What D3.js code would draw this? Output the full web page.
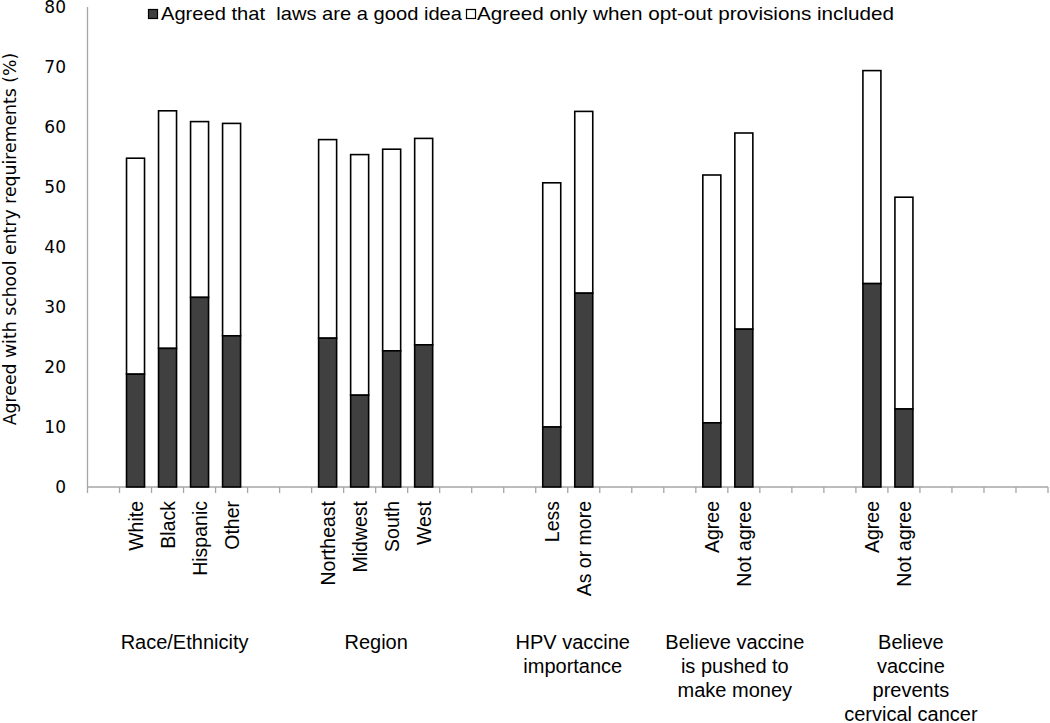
<!DOCTYPE html>
<html>
<head>
<meta charset="utf-8">
<script src="https://cdn.jsdelivr.net/npm/d3@7"></script>
<style>
  html, body { margin: 0; padding: 0; background: #fff; }
  svg { display: block; }
</style>
</head>
<body>
<svg id="chart" width="1050" height="723"></svg>
<script>
// ---- data ----
const categories = ["", "White", "Black", "Hispanic", "Other", "", "",
  "Northeast", "Midwest", "South", "West", "", "", "",
  "Less", "As or more", "", "", "",
  "Agree", "Not agree", "", "", "",
  "Agree", "Not agree", "", "", "", ""];
const agreedLaws = [null, 18.8, 23.1, 31.6, 25.2, null, null,
  24.8, 15.3, 22.7, 23.7, null, null, null,
  10.0, 32.3, null, null, null,
  10.7, 26.3, null, null, null,
  33.9, 13.0, null, null, null, null];
const agreedOptOut = [null, 36.0, 39.6, 29.3, 35.4, null, null,
  33.1, 40.1, 33.6, 34.4, null, null, null,
  40.7, 30.3, null, null, null,
  41.3, 32.7, null, null, null,
  35.5, 35.3, null, null, null, null];
const seriesNames = ["Agreed that  laws are a good idea", "Agreed only when opt-out provisions included"];
const groupNames = [["Race/Ethnicity"], ["Region"], ["HPV vaccine", "importance"],
  ["Believe vaccine", "is pushed to", "make money"], ["Believe", "vaccine", "prevents", "cervical cancer"]];
const groupSpans = [[1, 4], [7, 10], [14, 15], [19, 20], [24, 25]];
const yTicks = [0, 10, 20, 30, 40, 50, 60, 70, 80];
const yTitle = "Agreed with school entry requirements (%)";

// ---- layout ----
const svg = d3.select("#chart");
const mLeft = 87.5, mRight = 1048, mTop = 7, mBottom = 487;
const axisColor = "#a6a6a6";
const darkFill = "#404040";

const x = d3.scaleBand().domain(d3.range(categories.length)).range([mLeft, mRight]).paddingInner(0).paddingOuter(0);
const y = d3.scaleLinear().domain([0, 80]).range([mBottom, mTop]);
const barW = 18;

// y axis line
svg.append("line").attr("x1", mLeft).attr("x2", mLeft).attr("y1", y(80)).attr("y2", y(0))
  .attr("stroke", axisColor).attr("stroke-width", 1.3);
// x axis line + slot boundary ticks
svg.append("line").attr("x1", mLeft).attr("x2", mRight).attr("y1", mBottom).attr("y2", mBottom)
  .attr("stroke", axisColor).attr("stroke-width", 1.3);
const bounds = d3.range(categories.length + 1).map(i => i < categories.length ? x(i) : x(categories.length - 1) + x.bandwidth());
svg.append("g").selectAll("line").data(bounds).join("line")
  .attr("x1", d => d).attr("x2", d => d).attr("y1", mBottom).attr("y2", mBottom + 6)
  .attr("stroke", axisColor).attr("stroke-width", 1.3);

// y tick labels
svg.append("g").selectAll("text").data(yTicks).join("text")
  .attr("x", 66).attr("y", d => y(d)).attr("dy", "0.36em")
  .attr("text-anchor", "end")
  .attr("font-family", "DejaVu Sans").attr("font-size", 17).attr("fill", "#000")
  .text(d => d);

// y title
svg.append("text")
  .attr("transform", `translate(15.5,${(y(80) + y(0)) / 2 - 8}) rotate(-90)`)
  .attr("text-anchor", "middle")
  .attr("font-family", "DejaVu Sans").attr("font-size", 17.3).attr("fill", "#000")
  .text(yTitle);

// bars
const idx = d3.range(categories.length).filter(i => agreedLaws[i] != null);
const cx = i => x(i) + x.bandwidth() / 2;
const gb = svg.append("g");
gb.selectAll("rect.total").data(idx).join("rect")
  .attr("class", "total")
  .attr("x", i => cx(i) - barW / 2).attr("width", barW)
  .attr("y", i => y(agreedLaws[i] + agreedOptOut[i]))
  .attr("height", i => y(agreedLaws[i]) - y(agreedLaws[i] + agreedOptOut[i]))
  .attr("fill", "#fff").attr("stroke", "#000").attr("stroke-width", 1.6);
gb.selectAll("rect.dark").data(idx).join("rect")
  .attr("class", "dark")
  .attr("x", i => cx(i) - barW / 2).attr("width", barW)
  .attr("y", i => y(agreedLaws[i]))
  .attr("height", i => y(0) - y(agreedLaws[i]))
  .attr("fill", darkFill).attr("stroke", "#000").attr("stroke-width", 1.6);

// category labels (rotated)
svg.append("g").selectAll("text").data(idx).join("text")
  .attr("transform", i => `translate(${cx(i) + 7},501) rotate(-90)`)
  .attr("text-anchor", "end")
  .attr("font-family", "Liberation Sans, Arial").attr("font-size", 19.5).attr("fill", "#000")
  .text(i => categories[i]);

// group labels
const groupDx = [1, 0.5, 5, 7, 23];
groupNames.forEach((lines, g) => {
  const [a, b] = groupSpans[g];
  const gcx = (x(a) + x(b) + x.bandwidth()) / 2 + groupDx[g];
  const t = svg.append("text")
    .attr("text-anchor", "middle")
    .attr("font-family", "Liberation Sans, Arial").attr("font-size", 20).attr("fill", "#000");
  lines.forEach((ln, k) => {
    t.append("tspan").attr("x", gcx).attr("y", 649 + k * 24.1).text(ln);
  });
});

// legend
const lg = svg.append("g");
lg.append("rect").attr("x", 148.5).attr("y", 9.5).attr("width", 9).attr("height", 9)
  .attr("fill", darkFill).attr("stroke", "#000").attr("stroke-width", 1.2);
lg.append("text").attr("x", 161).attr("y", 19.5)
  .style("white-space", "pre")
  .attr("font-family", "Liberation Sans, Arial").attr("font-size", 19).attr("fill", "#000")
  .attr("textLength", 301).attr("lengthAdjust", "spacingAndGlyphs")
  .text(seriesNames[0]);
lg.append("rect").attr("x", 466.5).attr("y", 9.5).attr("width", 9).attr("height", 9)
  .attr("fill", "#fff").attr("stroke", "#000").attr("stroke-width", 1.2);
lg.append("text").attr("x", 477).attr("y", 19.5)
  .attr("font-family", "Liberation Sans, Arial").attr("font-size", 19).attr("fill", "#000")
  .attr("textLength", 417).attr("lengthAdjust", "spacingAndGlyphs")
  .text(seriesNames[1]);
</script>
</body>
</html>
